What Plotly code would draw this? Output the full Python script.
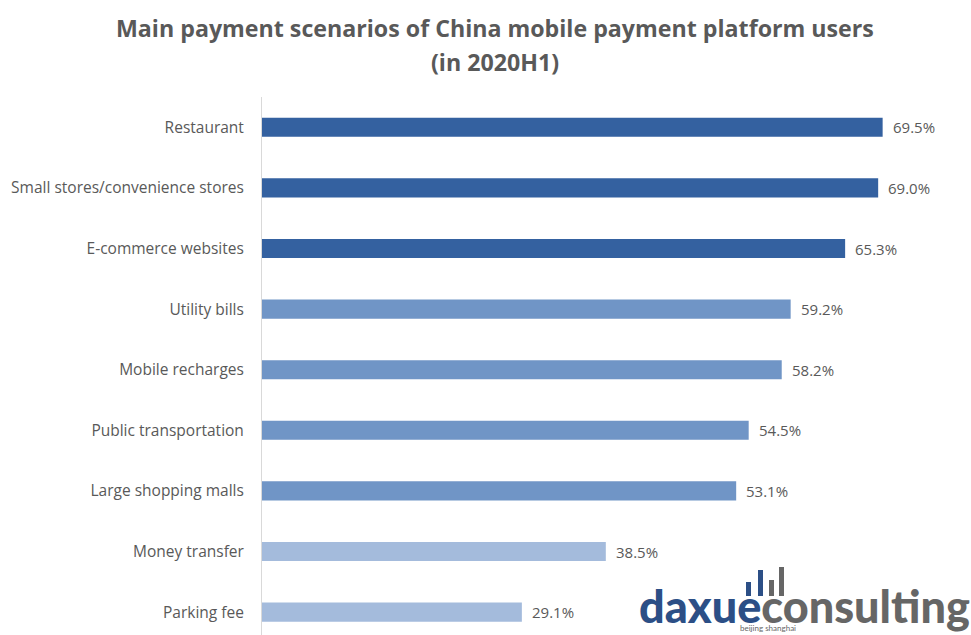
import plotly.graph_objects as go

# Payment scenarios, top to bottom, with share of users (%)
categories = [
    "Restaurant",
    "Small stores/convenience stores",
    "E-commerce websites",
    "Utility bills",
    "Mobile recharges",
    "Public transportation",
    "Large shopping malls",
    "Money transfer",
    "Parking fee",
]
values = [69.5, 69.0, 65.3, 59.2, 58.2, 54.5, 53.1, 38.5, 29.1]
tiers = ["top", "top", "top", "mid", "mid", "mid", "mid", "low", "low"]
title_lines = ["Main payment scenarios of China mobile payment platform users", "(in 2020H1)"]

tier_colors = {"top": "#3461A0", "mid": "#7095C6", "low": "#A4BBDC"}
bar_colors = [tier_colors[t] for t in tiers]
labels = [f"{v:.1f}%" for v in values]

W, H = 971, 635
LEFT, TOP = 262, 97
ROW = 60.6
x_max = (W - LEFT) / 8.93
y_bottom = -0.5 + (H - TOP) / ROW

FONT = "Open Sans, Liberation Sans, sans-serif"
GREY = "#595959"


def px_x(px):
    return (px - LEFT) / (W - LEFT)


def px_y(py):
    return (H - py) / (H - TOP)


fig = go.Figure(
    go.Bar(
        y=categories,
        x=values,
        orientation="h",
        marker=dict(color=bar_colors, line=dict(width=0)),
        hoverinfo="skip",
    )
)

# Value labels just past the end of each bar
for cat, v, lab in zip(categories, values, labels):
    fig.add_annotation(
        x=v, y=cat, xref="x", yref="y", xanchor="left", yanchor="middle",
        xshift=8, text=lab, showarrow=False,
        font=dict(family=FONT, size=15, color=GREY),
    )

fig.update_layout(
    width=W,
    height=H,
    margin=dict(l=LEFT, r=0, t=TOP, b=0),
    paper_bgcolor="white",
    plot_bgcolor="white",
    bargap=0.685,
    showlegend=False,
    xaxis=dict(
        range=[0, x_max],
        showgrid=False,
        zeroline=False,
        showticklabels=False,
        showline=False,
        fixedrange=True,
    ),
    yaxis=dict(
        categoryorder="array",
        categoryarray=categories,
        range=[y_bottom, -0.5],
        showgrid=False,
        zeroline=False,
        showline=True,
        linecolor="#D9D9D9",
        linewidth=1,
        ticks="",
        ticklabelstandoff=14,
        tickfont=dict(family=FONT, size=15.5, color=GREY),
        fixedrange=True,
    ),
)

# Two-line chart title
for line, py in zip(title_lines, [28, 62]):
    fig.add_annotation(
        x=px_x(495), y=px_y(py), xref="paper", yref="paper",
        xanchor="center", yanchor="middle", text=f"<b>{line}</b>",
        showarrow=False, font=dict(family=FONT, size=23.2, color=GREY),
    )

# daxueconsulting logo in the lower right corner
logo_font = "Lato, Open Sans, sans-serif"
fig.add_annotation(
    x=1.0, y=px_y(634), xref="paper", yref="paper",
    xanchor="right", yanchor="bottom", borderpad=0,
    text="<span style='color:#2C4F86'>daxue</span><span style='color:#666666'>consulting</span>",
    showarrow=False, font=dict(family=logo_font, size=45, weight=900),
)
fig.add_annotation(
    x=px_x(768), y=px_y(635), xref="paper", yref="paper",
    xanchor="center", yanchor="bottom",
    text="beijing shanghai", showarrow=False,
    font=dict(family=logo_font, size=8, color="#666666"),
)

# Bar-chart icon above the logo
icon_bars = [
    (746, 751, 582, "#2C4F86"),
    (758, 763, 570, "#2C4F86"),
    (769, 774, 580, "#666666"),
    (779, 784, 567, "#666666"),
]
for x0, x1, top, c in icon_bars:
    fig.add_shape(
        type="rect", xref="paper", yref="paper",
        x0=px_x(x0), x1=px_x(x1), y0=px_y(596), y1=px_y(top),
        fillcolor=c, line=dict(width=0), layer="above",
    )

fig.write_html("out.html")
